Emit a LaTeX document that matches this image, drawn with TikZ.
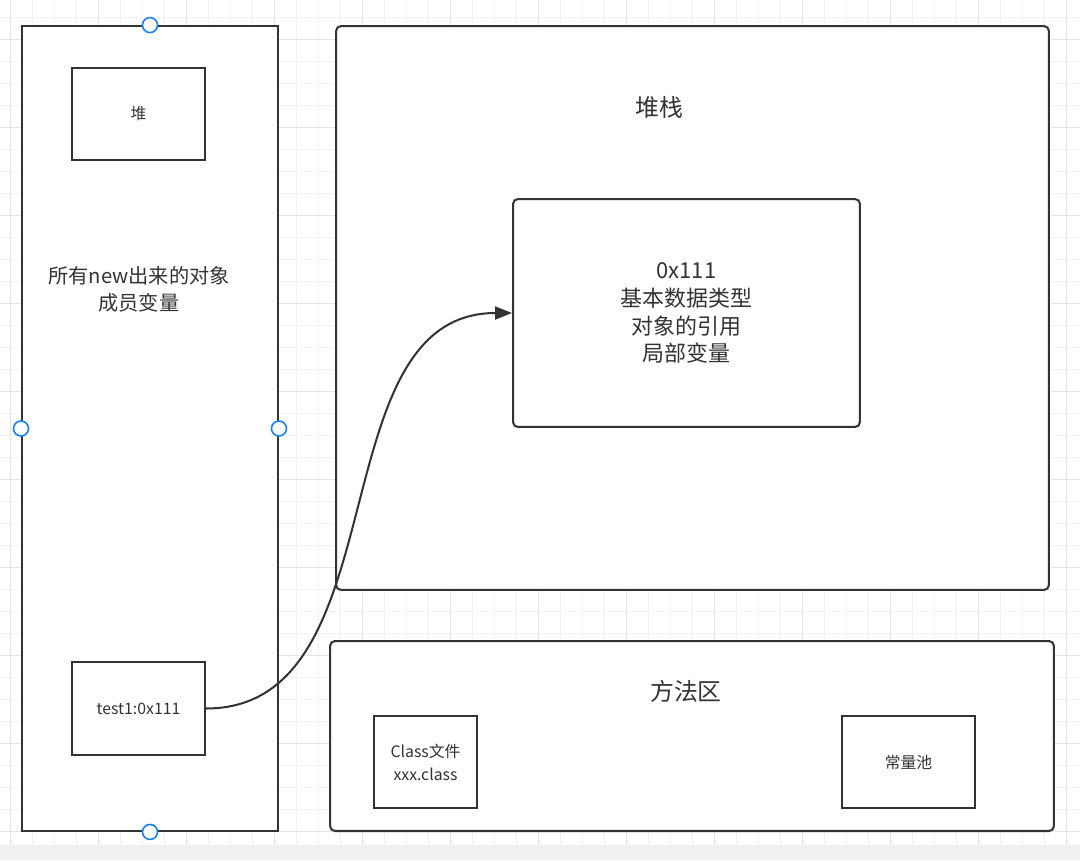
\documentclass[tikz,border=0pt]{standalone}
\usepackage{fontspec}
\setmainfont{Noto Sans CJK SC}
\usepackage{tikz}
\usetikzlibrary{positioning, calc, arrows.meta}
\usepackage{xcolor}
\definecolor{linec}{HTML}{333333}
\definecolor{gridminor}{HTML}{F2F2F2}
\definecolor{gridmajor}{HTML}{E4E4E4}
\definecolor{handlec}{HTML}{1A7FF0}
\definecolor{stripc}{HTML}{F0F0F0}

\begin{document}
\begin{tikzpicture}[x=0.02cm, y=-0.02cm,
      area/.style={draw=linec, line width=1.15pt, text=linec, rounded corners=2.8pt},
      plainbox/.style={draw=linec, line width=1.15pt, text=linec, align=center,
        font=\fontsize{9pt}{13pt}\selectfont},
      label/.style={text=linec, align=center},
      handle/.style={circle, draw=handlec, fill=white, line width=0.9pt,
        minimum size=0.3cm, inner sep=0pt},
      arrow/.style={-{Triangle[length=0.34cm, width=0.26cm]}, draw=linec, line width=1.15pt}
    ]
      \useasboundingbox (0,0) rectangle (1080,860);
      \fill[white] (0,0) rectangle (1080,845);
      \fill[stripc] (0,845) rectangle (1080,860);

      % background grid
      \foreach \gx in {10,32,...,1076} \draw[gridminor, line width=0.5pt] (\gx,0) -- (\gx,845);
      \foreach \gy in {17,39,...,843} \draw[gridminor, line width=0.5pt] (0,\gy) -- (1080,\gy);
      \foreach \gx in {10,98,...,1076} \draw[gridmajor, line width=0.5pt] (\gx,0) -- (\gx,845);
      \foreach \gy in {39,127,...,843} \draw[gridmajor, line width=0.5pt] (0,\gy) -- (1080,\gy);

      % heap
      \node[plainbox, fill=white, minimum width=5.12cm, minimum height=16.1cm] (heap) at (150,428.5) {};
      \node[plainbox, minimum width=2.66cm, minimum height=1.84cm] (heapbox) at (138.5,114) {堆};
      \node[label, font=\fontsize{11.5pt}{15.3pt}\selectfont] (heaptext) at (139,289)
        {所有new出来的对象\\成员变量};
      \node[plainbox, minimum width=2.66cm, minimum height=1.86cm] (ref) at (138.5,708.5) {test1:0x111};

      % stack
      \node[area, fill=white, minimum width=14.26cm, minimum height=11.28cm] (stack) at (692.5,308) {};
      \node[label, font=\fontsize{13.6pt}{16pt}\selectfont] (stacktitle) at (659,107) {堆栈};
      \node[area, align=center, minimum width=6.94cm, minimum height=4.56cm,
        font=\fontsize{12.5pt}{15.9pt}\selectfont] (stackbox) at (686.5,313)
        {0x111\\基本数据类型\\对象的引用\\局部变量};

      % method area
      \node[area, fill=white, minimum width=14.48cm, minimum height=3.8cm] (method) at (692,736) {};
      \node[label, font=\fontsize{13.6pt}{16pt}\selectfont] (methodtitle) at (686,691) {方法区};
      \node[plainbox, minimum width=2.06cm, minimum height=1.84cm] (classbox) at (425.5,762)
        {Class文件\\xxx.class};
      \node[plainbox, minimum width=2.66cm, minimum height=1.84cm] (pool) at (908.5,762) {常量池};

      \draw[arrow] (ref.east) to[out=0, in=180] (stackbox.west);

      % selection handles
      \foreach \a in {north,south,east,west}
        \node[handle] (h-\a) at (heap.\a) {};
    \end{tikzpicture}
\end{document}
